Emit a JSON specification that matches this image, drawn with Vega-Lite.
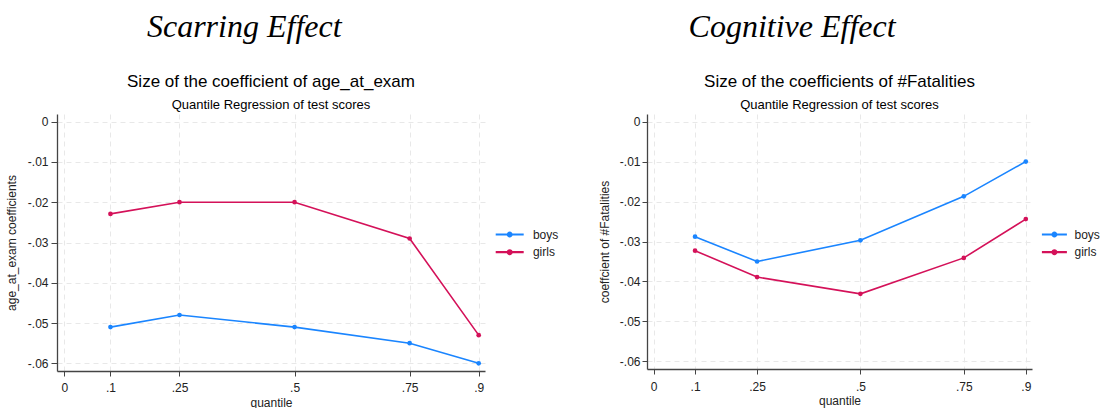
{
  "$schema": "https://vega.github.io/schema/vega-lite/v6.json",
  "background": "white",
  "padding": {"left": 5, "top": 11, "right": 0, "bottom": 0},
  "config": {
    "font": "Liberation Sans",
    "view": {"stroke": null},
    "concat": {"spacing": 38},
    "axis": {
      "labelFont": "Liberation Sans",
      "labelFontSize": 12,
      "labelColor": "#222222",
      "titleFont": "Liberation Sans",
      "titleFontSize": 12,
      "titleFontWeight": "normal",
      "titleColor": "#222222",
      "domainColor": "#444444",
      "domainWidth": 1.3,
      "tickColor": "#444444",
      "tickWidth": 1,
      "gridColor": "#e8e8e8",
      "gridDash": [5, 4],
      "gridWidth": 1
    },
    "legend": {
      "labelFont": "Liberation Sans",
      "labelFontSize": 12,
      "labelColor": "#222222"
    }
  },
  "datasets": {
    "scar": [
      {"q": 0.1, "coef": -0.051, "sex": "boys"},
      {"q": 0.25, "coef": -0.048, "sex": "boys"},
      {"q": 0.5, "coef": -0.051, "sex": "boys"},
      {"q": 0.75, "coef": -0.055, "sex": "boys"},
      {"q": 0.9, "coef": -0.060, "sex": "boys"},
      {"q": 0.1, "coef": -0.0229, "sex": "girls"},
      {"q": 0.25, "coef": -0.020, "sex": "girls"},
      {"q": 0.5, "coef": -0.020, "sex": "girls"},
      {"q": 0.75, "coef": -0.029, "sex": "girls"},
      {"q": 0.9, "coef": -0.053, "sex": "girls"}
    ],
    "cog": [
      {"q": 0.1, "coef": -0.0288, "sex": "boys"},
      {"q": 0.25, "coef": -0.0350, "sex": "boys"},
      {"q": 0.5, "coef": -0.0297, "sex": "boys"},
      {"q": 0.75, "coef": -0.0187, "sex": "boys"},
      {"q": 0.9, "coef": -0.0100, "sex": "boys"},
      {"q": 0.1, "coef": -0.0323, "sex": "girls"},
      {"q": 0.25, "coef": -0.0389, "sex": "girls"},
      {"q": 0.5, "coef": -0.0431, "sex": "girls"},
      {"q": 0.75, "coef": -0.0341, "sex": "girls"},
      {"q": 0.9, "coef": -0.0244, "sex": "girls"}
    ]
  },
  "resolve": {"legend": {"color": "independent"}},
  "hconcat": [
    {
      "title": {"text": "Scarring Effect", "font": "Liberation Serif", "fontStyle": "italic", "fontWeight": "normal", "fontSize": 32, "color": "#000000", "anchor": "middle", "dx": -38, "offset": 29},
      "resolve": {"legend": {"color": "independent"}},
      "vconcat": [
        {
          "width": 428,
          "height": 257,
          "title": {"text": "Size of the coefficient of age_at_exam", "subtitle": "Quantile Regression of test scores", "fontSize": 17, "fontWeight": "normal", "color": "#000000", "subtitleFontSize": 13, "subtitleColor": "#000000", "subtitlePadding": 8, "offset": 1, "anchor": "middle"},
          "data": {"name": "scar"},
          "layer": [
            {
              "mark": {"type": "line", "strokeWidth": 1.6},
              "encoding": {
                "x": {"field": "q", "type": "quantitative", "scale": {"domain": [-0.0161, 0.9137], "nice": false, "zero": false},
                  "axis": {"values": [0, 0.1, 0.25, 0.5, 0.75, 0.9], "labelExpr": "replace(toString(datum.value), '0.', '.')", "title": "quantile", "grid": true, "tickSize": 5, "labelPadding": 6, "titlePadding": 4}},
                "y": {"field": "coef", "type": "quantitative", "scale": {"domain": [-0.0619, 0.0019], "nice": false, "zero": false},
                  "axis": {"values": [0, -0.01, -0.02, -0.03, -0.04, -0.05, -0.06], "labelExpr": "datum.value == 0 ? '0' : '-.0' + round(-datum.value * 100)", "title": "age_at_exam coefficients", "grid": true, "tickSize": 6, "labelPadding": 3, "titlePadding": 9}},
                "color": {"field": "sex", "type": "nominal", "scale": {"domain": ["boys", "girls"], "range": ["#1A85FF", "#D41159"]},
                  "legend": {"title": null, "orient": "none", "legendX": 446.2, "legendY": 114, "rowPadding": 4.7, "symbolType": "M-2.8,0L2.8,0M-0.375,0A0.375,0.375,0,1,0,0.375,0A0.375,0.375,0,1,0,-0.375,0Z", "symbolSize": 100, "symbolStrokeWidth": 2.2, "labelOffset": 16.7,
                    "encode": {"symbols": {"update": {"fill": {"scale": "color", "field": "value"}, "stroke": {"scale": "color", "field": "value"}}}}}}
              }
            },
            {
              "mark": {"type": "point", "filled": true, "size": 22, "opacity": 1},
              "encoding": {
                "x": {"field": "q", "type": "quantitative"},
                "y": {"field": "coef", "type": "quantitative"},
                "color": {"field": "sex", "type": "nominal", "legend": null}
              }
            }
          ]
        }
      ]
    },
    {
      "title": {"text": "Cognitive Effect", "font": "Liberation Serif", "fontStyle": "italic", "fontWeight": "normal", "fontSize": 32, "color": "#000000", "anchor": "middle", "dx": -57, "offset": 29},
      "resolve": {"legend": {"color": "independent"}},
      "vconcat": [
        {
          "width": 385,
          "height": 255,
          "title": {"text": "Size of the coefficients of #Fatalities", "subtitle": "Quantile Regression of test scores", "fontSize": 17, "fontWeight": "normal", "color": "#000000", "subtitleFontSize": 13, "subtitleColor": "#000000", "subtitlePadding": 8, "offset": 1, "anchor": "middle"},
          "data": {"name": "cog"},
          "layer": [
            {
              "mark": {"type": "line", "strokeWidth": 1.6},
              "encoding": {
                "x": {"field": "q", "type": "quantitative", "scale": {"domain": [-0.0162, 0.915], "nice": false, "zero": false},
                  "axis": {"values": [0, 0.1, 0.25, 0.5, 0.75, 0.9], "labelExpr": "replace(toString(datum.value), '0.', '.')", "title": "quantile", "grid": true, "tickSize": 5, "labelPadding": 7, "titlePadding": 3}},
                "y": {"field": "coef", "type": "quantitative", "scale": {"domain": [-0.0619, 0.0019], "nice": false, "zero": false},
                  "axis": {"values": [0, -0.01, -0.02, -0.03, -0.04, -0.05, -0.06], "labelExpr": "datum.value == 0 ? '0' : '-.0' + round(-datum.value * 100)", "title": "coeffcient of #Fatalities", "grid": true, "tickSize": 5, "labelPadding": 2, "titlePadding": 8}},
                "color": {"field": "sex", "type": "nominal", "scale": {"domain": ["boys", "girls"], "range": ["#1A85FF", "#D41159"]},
                  "legend": {"title": null, "orient": "none", "legendX": 400.9, "legendY": 114, "rowPadding": 4.7, "symbolType": "M-2.5,0L2.5,0M-0.375,0A0.375,0.375,0,1,0,0.375,0A0.375,0.375,0,1,0,-0.375,0Z", "symbolSize": 100, "symbolStrokeWidth": 2.2, "labelOffset": 13.6,
                    "encode": {"symbols": {"update": {"fill": {"scale": "color", "field": "value"}, "stroke": {"scale": "color", "field": "value"}}}}}}
              }
            },
            {
              "mark": {"type": "point", "filled": true, "size": 22, "opacity": 1},
              "encoding": {
                "x": {"field": "q", "type": "quantitative"},
                "y": {"field": "coef", "type": "quantitative"},
                "color": {"field": "sex", "type": "nominal", "legend": null}
              }
            }
          ]
        }
      ]
    }
  ]
}
